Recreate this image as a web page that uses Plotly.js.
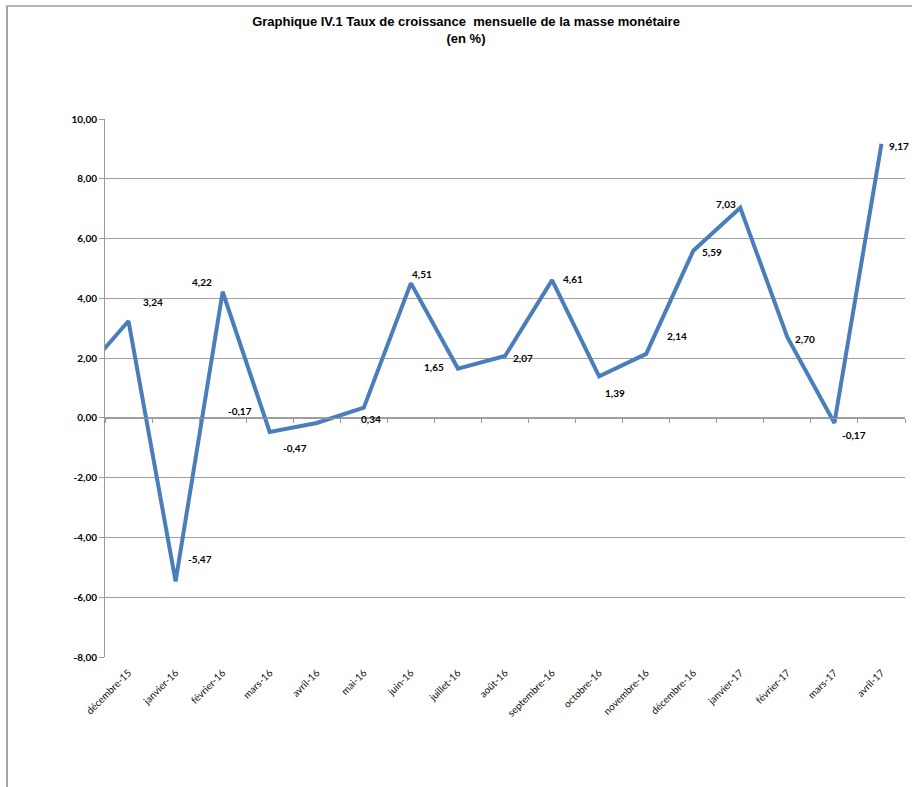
<!DOCTYPE html>
<html>
<head>
<meta charset="utf-8">
<script src="https://cdn.plot.ly/plotly-3.0.1.min.js"></script>
<style>
  html, body { margin: 0; padding: 0; background: #fff; }
  #wrap { position: relative; width: 912px; height: 787px; }
  #chart { width: 912px; height: 787px; }
  #frame { position: absolute; left: 6px; top: 5px; width: 920px; height: 800px;
           border-left: 2px solid #a6a6a6; border-top: 2px solid #b4b4b4; pointer-events: none; }
</style>
</head>
<body>
<div id="wrap">
  <div id="chart"></div>
  <div id="frame"></div>
</div>
<script>
// Months (the first one is only partly visible at the left edge of the plot)
const months = ['novembre-15', 'décembre-15', 'janvier-16', 'février-16', 'mars-16', 'avril-16',
  'mai-16', 'juin-16', 'juillet-16', 'août-16', 'septembre-16', 'octobre-16',
  'novembre-16', 'décembre-16', 'janvier-17', 'février-17', 'mars-17', 'avril-17'];
// Monthly growth rate of money supply (%)
const growth = [1.44, 3.24, -5.47, 4.22, -0.47, -0.17, 0.34, 4.51, 1.65, 2.07, 4.61, 1.39,
  2.14, 5.59, 7.03, 2.70, -0.17, 9.17];

// Y-axis ticks
const yTickVals = [-8, -6, -4, -2, 0, 2, 4, 6, 8, 10];
const yTickText = ['-8,00', '-6,00', '-4,00', '-2,00', '0,00', '2,00', '4,00', '6,00', '8,00', '10,00'];

// Label pixel offsets (style only), for visible points déc-15 .. avr-17
const labelDx = [24, 24, -21, 25, -77, 7, 11, -24, 18, 21, 16, 31, 19, -14, 18, 20, 18];
const labelDy = [19, 22, 10, -16, 12, -11, 9, 2, -2, 1, -17, 18, -1, 4, -2, -12, -2];

const xIdx = months.map((_, i) => i);
const fmt = v => v.toFixed(2).replace('.', ',');

const trace = {
  x: xIdx, y: growth, type: 'scatter', mode: 'lines',
  line: { color: '#4a7ebb', width: 4 },
  hoverinfo: 'skip', showlegend: false, cliponaxis: true
};
const axisTrace = {
  x: xIdx, y: growth, type: 'scatter', mode: 'lines', xaxis: 'x2',
  line: { width: 0, color: 'rgba(0,0,0,0)' }, hoverinfo: 'skip', showlegend: false
};

const yMin = -8, yMax = 10;
const xRange = [0.5, months.length - 0.5];

const annotations = [];
for (let i = 1; i < months.length; i++) {
  annotations.push({
    x: xIdx[i], y: growth[i], xref: 'x', yref: 'y',
    text: '<b>' + fmt(growth[i]) + '</b>', showarrow: false,
    xshift: labelDx[i - 1], yshift: labelDy[i - 1],
    font: { family: 'Lato, Liberation Sans, sans-serif', size: 10, color: '#000' }
  });
}

const boundaries = [];
for (let i = 0; i < months.length; i++) boundaries.push(i + 0.5);

const layout = {
  width: 912, height: 787,
  margin: { l: 105, r: 7, t: 119, b: 130 },
  paper_bgcolor: '#fff', plot_bgcolor: '#fff',
  separators: ', ',
  title: {
    text: '<b>Graphique IV.1 Taux de croissance&nbsp; mensuelle de la masse monétaire<br>(en %)</b>',
    x: 466 / 912, xanchor: 'center', xref: 'container',
    y: 1 - 26 / 787, yanchor: 'top', yref: 'container',
    font: { family: 'Liberation Sans, Arial, sans-serif', size: 13, color: '#000' }
  },
  xaxis: {
    range: xRange, tickvals: xIdx, ticktext: months, tickangle: -45,
    showgrid: false, zeroline: false, showline: false,
    ticks: 'outside', ticklen: 5, tickcolor: 'rgba(0,0,0,0)',
    tickfont: { family: 'Lato, Liberation Sans, sans-serif', size: 10, color: '#111' },
    fixedrange: true
  },
  xaxis2: {
    range: xRange, overlaying: 'x', anchor: 'free', position: (0 - yMin) / (yMax - yMin),
    showline: true, linecolor: '#9a9a9a', linewidth: 1,
    ticks: 'outside', ticklen: 4, tickcolor: '#9a9a9a', tickvals: boundaries,
    showticklabels: false, showgrid: false, zeroline: false, fixedrange: true
  },
  yaxis: {
    range: [yMin, yMax], tickvals: yTickVals, ticktext: yTickText,
    showgrid: true, gridcolor: '#a0a0a0', gridwidth: 1,
    zeroline: false, showline: true, linecolor: '#9a9a9a', linewidth: 1,
    ticks: 'outside', ticklen: 5, tickcolor: '#9a9a9a',
    tickfont: { family: 'Lato, Liberation Sans, sans-serif', size: 10, color: '#000', weight: 'bold' },
    fixedrange: true
  },
  annotations: annotations,
  showlegend: false
};

Plotly.newPlot('chart', [trace, axisTrace], layout, { staticPlot: true });
</script>
</body>
</html>
